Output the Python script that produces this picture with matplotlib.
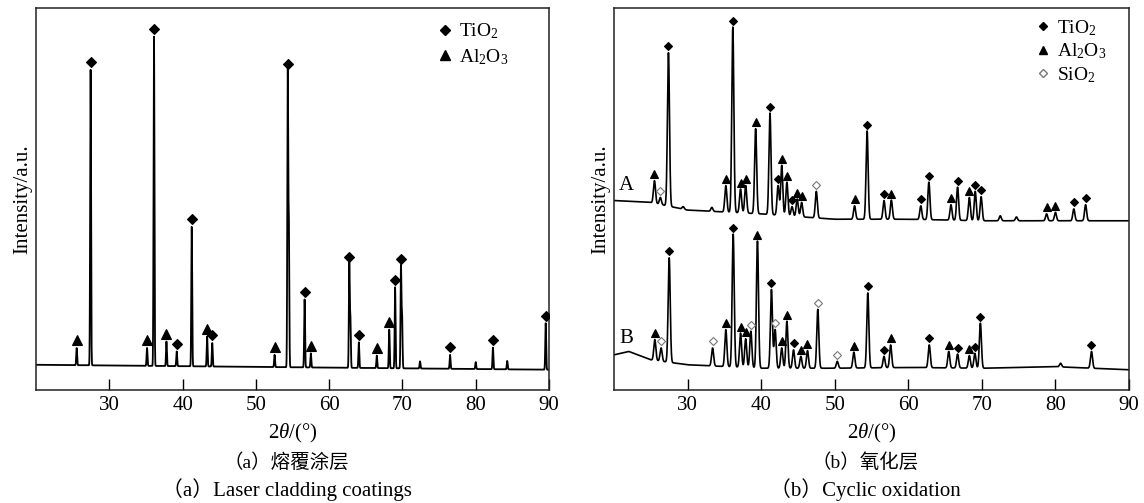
import numpy as np
import matplotlib
matplotlib.use('Agg')
from matplotlib import pyplot as plt
from matplotlib.lines import Line2D

plt.rcParams['font.family'] = ['Liberation Serif', 'Noto Sans CJK SC']
plt.rcParams['mathtext.fontset'] = 'custom'
plt.rcParams['mathtext.rm'] = 'Liberation Serif'
plt.rcParams['mathtext.it'] = 'Liberation Serif:italic'

# ---- (a) laser cladding coating: peak positions (deg) and peak tops (% of axis height)
a_tio2_pos = [27.45, 36.1, 39.2, 41.25, 44.05, 54.35, 56.65, 62.75, 64.05, 69.0, 69.8, 76.5, 82.35, 89.55]
a_tio2_top = [83.8, 92.5, 10.1, 42.7, 12.3, 83.3, 23.7, 32.9, 12.5, 26.9, 32.2, 9.2, 11.1, 17.5]
a_al2o3_pos = [25.55, 35.15, 37.8, 43.35, 52.55, 57.5, 66.5, 68.2]
a_al2o3_top = [11.0, 11.0, 12.7, 14.0, 9.2, 9.6, 9.0, 15.8]
a_other_pos = [54.5, 62.9, 69.95, 72.4, 80.0, 84.3]
a_other_top = [43.0, 18.5, 19.5, 7.5, 7.3, 7.6]
a_bg_x = [20, 90]
a_bg_y = [6.6, 5.3]

# ---- (b) cyclic oxidation, curve A
A_tio2_pos = [27.4, 36.15, 41.2, 42.3, 44.2, 54.4, 56.7, 61.7, 62.8, 66.7, 69.1, 69.9, 82.5, 84.1]
A_tio2_top = [88.3, 95.0, 72.5, 53.5, 48.0, 67.8, 49.6, 48.2, 54.4, 53.1, 52.0, 50.6, 47.4, 48.5]
A_al2o3_pos = [25.5, 35.2, 37.2, 37.9, 39.25, 42.8, 43.5, 44.9, 45.5, 52.7, 57.7, 65.8, 68.3, 78.8, 80.0]
A_al2o3_top = [54.8, 53.5, 52.6, 53.5, 68.4, 58.8, 54.4, 50.0, 49.1, 48.2, 49.7, 48.5, 50.4, 46.1, 46.5]
A_sio2_pos = [26.3, 47.5]
A_sio2_top = [50.4, 52.0]
A_other_pos = [29.4, 33.3, 72.5, 74.7]
A_other_top = [48.0, 47.8, 45.6, 45.3]
A_bg_x = [20, 25, 30, 40, 50, 60, 70, 90]
A_bg_y = [49.6, 49.1, 47.1, 46.1, 44.7, 44.7, 44.3, 44.3]

# ---- (b) curve B
B_tio2_pos = [27.5, 36.2, 41.4, 44.4, 54.5, 56.7, 62.85, 66.7, 69.05, 69.8, 84.9]
B_tio2_top = [34.6, 40.8, 26.3, 10.5, 25.4, 8.8, 11.8, 9.4, 9.6, 17.5, 10.1]
B_al2o3_pos = [25.55, 35.2, 37.2, 37.9, 39.5, 42.8, 43.5, 45.4, 46.3, 52.6, 57.6, 65.5, 68.3]
B_al2o3_top = [13.2, 15.8, 14.9, 13.4, 39.0, 11.0, 18.0, 8.8, 10.3, 9.9, 11.8, 10.1, 9.0]
B_sio2_pos = [26.4, 33.4, 38.6, 41.9, 47.7, 50.35]
B_sio2_top = [11.0, 11.0, 15.4, 15.8, 21.1, 7.5]
B_other_pos = [80.7]
B_other_top = [7.0]
B_bg_x = [20, 22, 25, 30, 40, 50, 60, 70, 80, 90]
B_bg_y = [9.2, 10.1, 7.9, 6.6, 5.7, 5.7, 5.9, 5.7, 6.1, 5.3]

x = np.linspace(20, 90, 7001)


def pattern(bg_x, bg_y, groups, width):
    bg = np.interp(x, bg_x, bg_y)
    y = bg.copy()
    for pos, top in groups:
        for p, t in zip(pos, top):
            amp = t - np.interp(p, bg_x, bg_y)
            y += amp * np.exp(-0.5 * ((x - p) / width) ** 2)
    return y


def marks(ax, pos, top, marker, ms, off, face='k', edge='k'):
    ax.plot(pos, np.array(top) + off, ls='none', marker=marker, ms=ms,
            mfc=face, mec=edge, mew=0.8, zorder=3)


def style(ax):
    ax.set_xlim(20, 90)
    ax.set_ylim(0, 100)
    ax.set_xticks([30, 40, 50, 60, 70, 80, 90])
    ax.set_yticks([])
    ax.tick_params(axis='x', direction='in', length=8, width=1, pad=4, labelsize=15)
    for s in ax.spines.values():
        s.set_linewidth(1.1)
        s.set_color('#222222')
    ax.set_ylabel('Intensity/a.u.', fontsize=15, labelpad=3)


fig = plt.figure(figsize=(11.44, 5.03), dpi=100)
ax1 = fig.add_axes([36 / 1144, 113 / 503, 513 / 1144, 382 / 503])
ax2 = fig.add_axes([614 / 1144, 113 / 503, 515 / 1144, 382 / 503])

# left panel
ya = pattern(a_bg_x, a_bg_y, [(a_tio2_pos, a_tio2_top), (a_al2o3_pos, a_al2o3_top),
                              (a_other_pos, a_other_top)], 0.06)
ax1.plot(x, ya, color='black', lw=1.3)
marks(ax1, a_tio2_pos, a_tio2_top, 'D', 5.5, 2.0)
marks(ax1, a_al2o3_pos, a_al2o3_top, '^', 7, 2.0)
style(ax1)
h1 = [Line2D([], [], ls='none', marker='D', ms=5.5, color='k'),
      Line2D([], [], ls='none', marker='^', ms=7, color='k')]
ax1.legend(h1, ['TiO$_2$', 'Al$_2$O$_3$'], loc='upper right', bbox_to_anchor=(0.955, 1.01),
           frameon=False, fontsize=14, handlelength=0.8, handletextpad=0.3, labelspacing=0.3)

# right panel
yA = pattern(A_bg_x, A_bg_y, [(A_tio2_pos, A_tio2_top), (A_al2o3_pos, A_al2o3_top),
                              (A_sio2_pos, A_sio2_top), (A_other_pos, A_other_top)], 0.14)
yB = pattern(B_bg_x, B_bg_y, [(B_tio2_pos, B_tio2_top), (B_al2o3_pos, B_al2o3_top),
                              (B_sio2_pos, B_sio2_top), (B_other_pos, B_other_top)], 0.14)
ax2.plot(x, yA, color='black', lw=1.2)
ax2.plot(x, yB, color='black', lw=1.2)
for pos, top in [(A_tio2_pos, A_tio2_top), (B_tio2_pos, B_tio2_top)]:
    marks(ax2, pos, top, 'D', 4.2, 1.7)
for pos, top in [(A_al2o3_pos, A_al2o3_top), (B_al2o3_pos, B_al2o3_top)]:
    marks(ax2, pos, top, '^', 5.5, 1.7)
for pos, top in [(A_sio2_pos, A_sio2_top), (B_sio2_pos, B_sio2_top)]:
    marks(ax2, pos, top, 'D', 4.5, 1.7, face='white', edge='#777777')
ax2.text(20.7, 53.5, 'A', fontsize=15, ha='left', va='center')
ax2.text(20.7, 13.5, 'B', fontsize=15, ha='left', va='center')
style(ax2)
h2 = [Line2D([], [], ls='none', marker='D', ms=4.2, color='k'),
      Line2D([], [], ls='none', marker='^', ms=5.5, color='k'),
      Line2D([], [], ls='none', marker='D', ms=4.5, mfc='white', mec='#777777')]
ax2.legend(h2, ['TiO$_2$', 'Al$_2$O$_3$', 'SiO$_2$'], loc='upper right',
           bbox_to_anchor=(0.99, 1.02), frameon=False, fontsize=14,
           handlelength=0.8, handletextpad=0.3, labelspacing=0.2)

for ax, cn, en in [(ax1, '（a）熔覆涂层', '（a）Laser cladding coatings'),
                   (ax2, '（b）氧化层', '（b）Cyclic oxidation')]:
    pos = ax.get_position()
    cx = (pos.x0 + pos.x1) / 2
    fig.text(cx, 1 - 433 / 503, r'2$\it{\theta}$/(°)', ha='center', va='center', fontsize=15)
    fig.text(cx - 6 / 1144, 1 - 463 / 503, cn, ha='center', va='center', fontsize=14)
    fig.text(cx - 6 / 1144, 1 - 490 / 503, en, ha='center', va='center', fontsize=15)

fig.savefig('out.png', dpi=100)
